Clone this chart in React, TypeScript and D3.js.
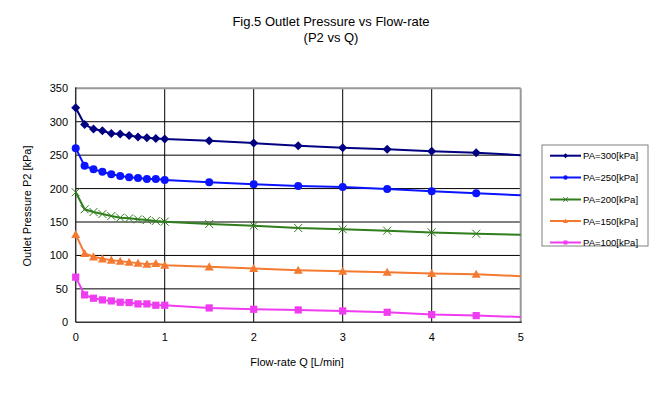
import React from "react";
import * as d3 from "d3";

const flowRates = [0, 0.1, 0.2, 0.3, 0.4, 0.5, 0.6, 0.7, 0.8, 0.9, 1.0, 1.5, 2, 2.5, 3, 3.5, 4, 4.5, 5];
const p300 = [321, 296, 289, 286.5, 282.5, 281.5, 279.5, 277, 276, 275, 274, 271.5, 268, 264, 261, 259, 256, 253.5, 250];
const p250 = [260.5, 234, 229, 225, 221.5, 219, 217, 216, 214.5, 214.5, 213, 209.5, 206.5, 204, 202.5, 199.5, 196, 193, 190];
const p200 = [194.5, 169, 165, 162, 159, 156.5, 155.5, 154, 153, 151.5, 150.5, 147, 144.5, 141, 139, 137, 134.5, 132.5, 131];
const p150 = [131.5, 103, 98, 95, 93, 91.5, 90, 88.5, 87, 88, 85.5, 83, 80.5, 78, 76.5, 75, 73, 72, 69];
const p100 = [67.5, 41, 36, 33.5, 32, 30, 29.5, 27.5, 27.5, 25.5, 25.5, 21.5, 19.5, 18.5, 17, 15, 11.5, 10, 8];
const seriesNames = ["PA=300[kPa]", "PA=250[kPa]", "PA=200[kPa]", "PA=150[kPa]", "PA=100[kPa]"];
const xTicks = [0, 1, 2, 3, 4, 5];
const yTicks = [0, 50, 100, 150, 200, 250, 300, 350];

const colors = ["#000080", "#0a14ff", "#2f7d1c", "#f47a32", "#f03cf0"];
const shapes = ["diamond", "circle", "x", "triangle", "square"];

const FONT = "Liberation Sans, Arial, sans-serif";

function Marker({ shape, color, x, y, s = 1 }: { shape: string; color: string; x: number; y: number; s?: number }) {
  if (shape === "diamond") {
    const r = 4.5 * s;
    return <path d={`M${x},${y - r}L${x + r},${y}L${x},${y + r}L${x - r},${y}Z`} fill={color} />;
  }
  if (shape === "circle") return <circle cx={x} cy={y} r={4 * s} fill={color} />;
  if (shape === "x") {
    const r = 4 * s;
    return (
      <path d={`M${x - r},${y - r}L${x + r},${y + r}M${x - r},${y + r}L${x + r},${y - r}`} stroke={color} strokeWidth={1} fill="none" />
    );
  }
  if (shape === "triangle") {
    const r = 4.5 * s;
    return <path d={`M${x},${y - r}L${x + r},${y + r * 0.8}L${x - r},${y + r * 0.8}Z`} fill={color} />;
  }
  const r = 3.6 * s;
  return <rect x={x - r} y={y - r} width={2 * r} height={2 * r} fill={color} />;
}

export default function App() {
  const W = 659, H = 397;
  const x = d3.scaleLinear().domain([0, 5]).range([75.7, 520.7]);
  const y = d3.scaleLinear().domain([0, 350]).range([322.3, 88.3]);
  const allSeries = [p300, p250, p200, p150, p100];
  const line = d3.line<[number, number]>().x((d) => x(d[0])).y((d) => y(d[1]));

  const legendX = 542, legendY = 145, legendW = 106, legendH = 101;
  const legendRows = [155.7, 177.5, 199.5, 221, 242.5];

  return (
    <svg width={W} height={H} style={{ position: "absolute", left: 0, top: 0, fontFamily: FONT }}>
      <rect x={0} y={0} width={W} height={H} fill="#fff" />
      <text x={331} y={26} textAnchor="middle" fontSize={13} fill="#000">Fig.5 Outlet Pressure vs Flow-rate</text>
      <text x={331} y={42} textAnchor="middle" fontSize={13} fill="#000">(P2 vs Q)</text>

      {/* grid */}
      {yTicks.filter((t) => t > 0 && t < 350).map((t) => (
        <line key={"gy" + t} x1={x(0)} x2={x(5)} y1={y(t)} y2={y(t)} stroke="#000" strokeWidth={1} />
      ))}
      {xTicks.filter((t) => t > 0 && t < 5).map((t) => (
        <line key={"gx" + t} x1={x(t)} x2={x(t)} y1={y(0)} y2={y(350)} stroke="#000" strokeWidth={1} />
      ))}
      {/* frame */}
      <line x1={x(0)} x2={x(5)} y1={y(350)} y2={y(350)} stroke="#999" strokeWidth={2} />
      <line x1={x(5)} x2={x(5)} y1={y(350)} y2={y(0)} stroke="#999" strokeWidth={2} />
      <line x1={x(0)} x2={x(0)} y1={y(350) - 1} y2={y(0)} stroke="#333" strokeWidth={1.5} />
      <line x1={x(0)} x2={x(5) + 1} y1={y(0)} y2={y(0)} stroke="#333" strokeWidth={1.5} />

      {/* tick labels */}
      {yTicks.map((t) => (
        <text key={"ty" + t} x={68} y={y(t) + 4} textAnchor="end" fontSize={11} fill="#000">{t}</text>
      ))}
      {xTicks.map((t) => (
        <text key={"tx" + t} x={x(t)} y={341} textAnchor="middle" fontSize={11} fill="#000">{t}</text>
      ))}

      <text x={297} y={366} textAnchor="middle" fontSize={11} fill="#000">Flow-rate Q [L/min]</text>
      <text transform="translate(31,206) rotate(-90)" textAnchor="middle" fontSize={11} fill="#000">Outlet Pressure P2 [kPa]</text>

      {/* series */}
      {allSeries.map((vals, i) => {
        const pts = flowRates.map((q, j) => [q, vals[j]] as [number, number]);
        return (
          <g key={"s" + i}>
            <path d={line(pts) || ""} fill="none" stroke={colors[i]} strokeWidth={2} />
            {pts.filter((p) => p[0] < 5).map((p, j) => (
              <Marker key={j} shape={shapes[i]} color={colors[i]} x={x(p[0])} y={y(p[1])} />
            ))}
          </g>
        );
      })}

      {/* legend */}
      <rect x={legendX} y={legendY} width={legendW} height={legendH} fill="#fff" stroke="#808080" strokeWidth={1} />
      {seriesNames.map((name, i) => (
        <g key={"l" + i}>
          <line x1={550} x2={581} y1={legendRows[i]} y2={legendRows[i]} stroke={colors[i]} strokeWidth={2} />
          <Marker shape={shapes[i]} color={colors[i]} x={565.5} y={legendRows[i]} s={0.55} />
          <text x={583} y={legendRows[i] + 3.5} fontSize={9.5} fill="#000">{name}</text>
        </g>
      ))}
    </svg>
  );
}
